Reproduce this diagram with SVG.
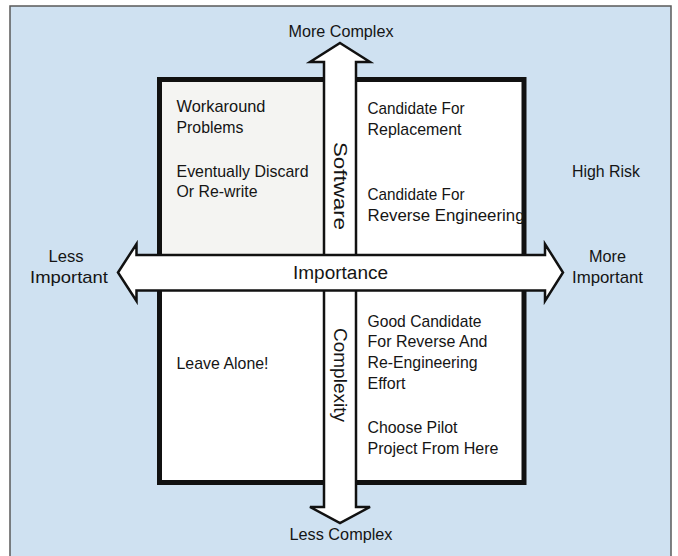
<svg xmlns="http://www.w3.org/2000/svg" width="678" height="556" viewBox="0 0 678 556">
<style>
text{font-family:"Liberation Sans",Arial,sans-serif;font-size:17px;fill:#151515}
.c{text-anchor:middle}
.big{font-size:18px}
.arrow{fill:#ffffff;stroke:#111;stroke-width:2.5;stroke-linejoin:miter}
</style>
<rect x="0" y="0" width="678" height="556" fill="#ffffff"/>
<g id="frame">
<rect x="10" y="6" width="661" height="552" fill="#cfe1f1" stroke="#5a5a5a" stroke-width="1.5"/>
</g>
<g id="grid">
<rect x="159.5" y="79.5" width="364.5" height="403" fill="#ffffff" stroke="#111" stroke-width="5"/>
<rect x="162" y="82" width="162" height="173" fill="#f4f4f2"/>
</g>
<g id="connectors">
<path class="arrow" d="M340,43 L370,62 L356,62 L356,507 L370,507 L340,523 L310,507 L324,507 L324,62 L310,62 Z"/>
<path class="arrow" d="M118,272.5 L136.5,244 L136.5,255 L545,255 L545,244 L563,272.5 L545,301 L545,290.5 L136.5,290.5 L136.5,301 Z"/>
</g>
<g id="axis-labels">
<text class="c" x="341" y="37" textLength="105" lengthAdjust="spacingAndGlyphs">More Complex</text>
<text class="c" x="341" y="540" textLength="103" lengthAdjust="spacingAndGlyphs">Less Complex</text>
<text class="c" x="66" y="262" textLength="35" lengthAdjust="spacingAndGlyphs">Less</text>
<text class="c" x="69" y="283" textLength="78" lengthAdjust="spacingAndGlyphs">Important</text>
<text class="c" x="607.5" y="262" textLength="37" lengthAdjust="spacingAndGlyphs">More</text>
<text class="c" x="607.5" y="283" textLength="71" lengthAdjust="spacingAndGlyphs">Important</text>
<text class="c" x="606" y="177" textLength="68" lengthAdjust="spacingAndGlyphs">High Risk</text>
<text class="c big" x="340.5" y="279" textLength="95" lengthAdjust="spacingAndGlyphs">Importance</text>
<text x="334" y="186" class="c big" transform="rotate(90 334 186)" textLength="88" lengthAdjust="spacingAndGlyphs">Software</text>
<text x="334" y="375" class="c big" transform="rotate(90 334 375)" textLength="94" lengthAdjust="spacingAndGlyphs">Complexity</text>
</g>
<g id="q-top-left">
<text x="176.5" y="112" textLength="89" lengthAdjust="spacingAndGlyphs">Workaround</text>
<text x="176.5" y="133" textLength="67" lengthAdjust="spacingAndGlyphs">Problems</text>
<text x="176.5" y="176.5" textLength="132" lengthAdjust="spacingAndGlyphs">Eventually Discard</text>
<text x="176.5" y="197" textLength="81" lengthAdjust="spacingAndGlyphs">Or Re-write</text>
</g>
<g id="q-top-right">
<text x="367.5" y="114" textLength="97" lengthAdjust="spacingAndGlyphs">Candidate For</text>
<text x="367.5" y="134.5" textLength="94" lengthAdjust="spacingAndGlyphs">Replacement</text>
<text x="367.5" y="200" textLength="97" lengthAdjust="spacingAndGlyphs">Candidate For</text>
<text x="367.5" y="221" textLength="157" lengthAdjust="spacingAndGlyphs">Reverse Engineering</text>
</g>
<g id="q-bottom-left">
<text x="176.5" y="369" textLength="92" lengthAdjust="spacingAndGlyphs">Leave Alone!</text>
</g>
<g id="q-bottom-right">
<text x="367.5" y="326.5" textLength="114" lengthAdjust="spacingAndGlyphs">Good Candidate</text>
<text x="367.5" y="347" textLength="120" lengthAdjust="spacingAndGlyphs">For Reverse And</text>
<text x="367.5" y="368" textLength="110" lengthAdjust="spacingAndGlyphs">Re-Engineering</text>
<text x="367.5" y="389" textLength="38" lengthAdjust="spacingAndGlyphs">Effort</text>
<text x="367.5" y="433" textLength="90" lengthAdjust="spacingAndGlyphs">Choose Pilot</text>
<text x="367.5" y="454" textLength="131" lengthAdjust="spacingAndGlyphs">Project From Here</text>
</g>
</svg>
